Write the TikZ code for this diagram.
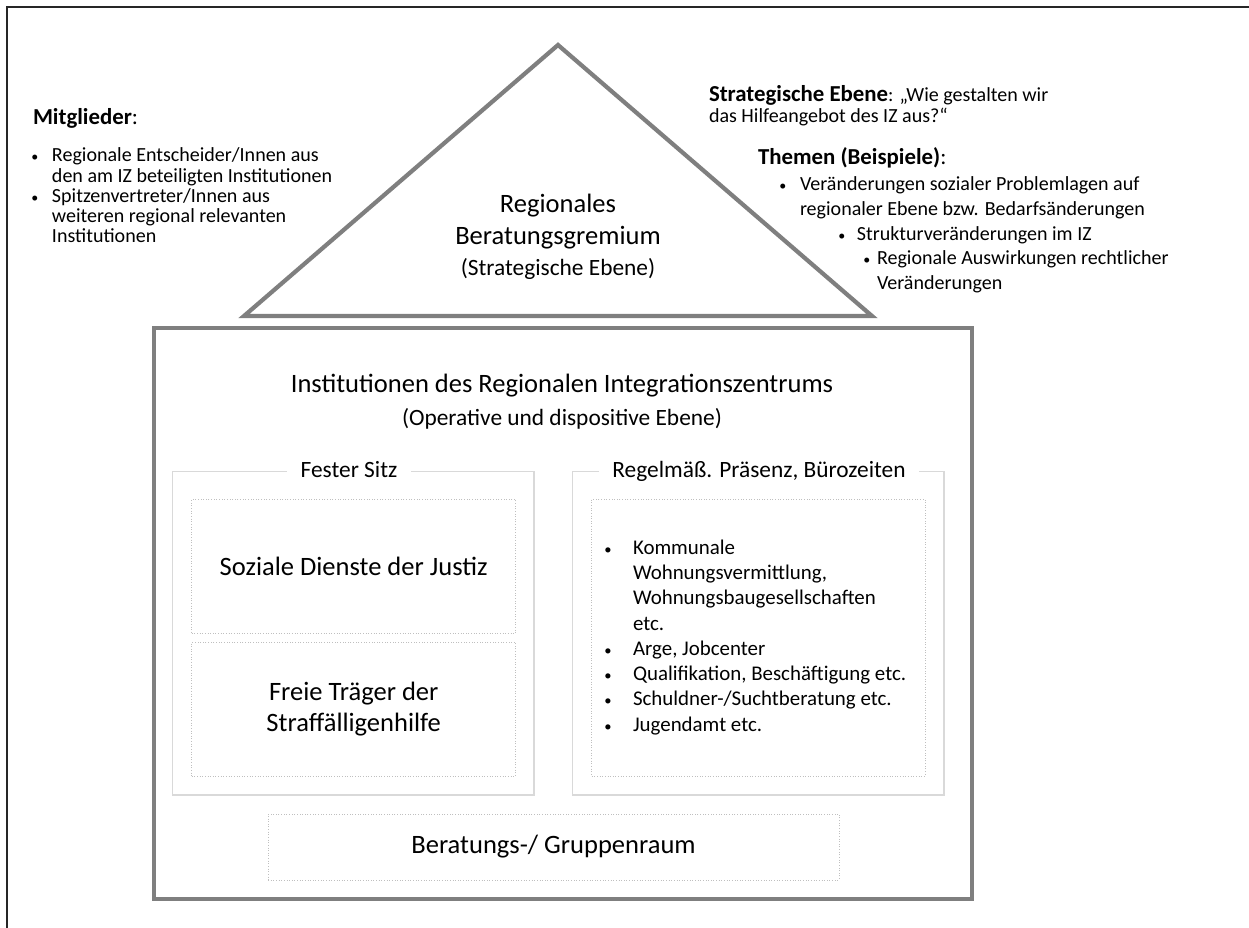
\documentclass[tikz,border=0pt]{standalone}
\usepackage{fontspec}
\setmainfont{Carlito}
\usepackage{xcolor}
\usepackage{tikz}

\definecolor{hausgrau}{HTML}{7F7F7F}
\definecolor{rahmengrau}{HTML}{D9D9D9}
\definecolor{punktgrau}{HTML}{BFBFBF}

\newcommand\fsbig{\fontsize{15.1}{17.9}\selectfont}
\newcommand\fssub{\fontsize{13.3}{17.9}\selectfont}
\newcommand\fshead{\fontsize{13}{11.4}\selectfont}
\newcommand\fsbody{\fontsize{11.4}{11.4}\selectfont}
\newcommand\fsbodyweit{\fontsize{11.4}{13.9}\selectfont}
\newcommand\fslist{\fontsize{11.9}{14.4}\selectfont}
\newcommand\pkt[1]{\makebox[#1][l]{\hspace{0.8pt}\scalebox{0.7}{•}}}

\begin{document}
\begin{tikzpicture}[x=0.02cm, y=-0.02cm,
    every node/.style={inner sep=0pt, outer sep=0pt},
    haus/.style={draw=hausgrau, line width=2.5pt},
    gruppe/.style={draw=rahmengrau, line width=0.6pt},
    feld/.style={draw=punktgrau, densely dotted, line width=0.5pt, align=center, font=\fsbig},
    titel/.style={fill=white, inner xsep=7.5pt, inner ysep=3pt, anchor=base, font=\fssub},
    liste/.style={anchor=base west, font=\fsbody}]
    \useasboundingbox (0,0) rectangle (1249,928);
    \draw[black!85, line width=1.3pt] (7,928) -- (7,7) -- (1249,7);

    \draw[haus, line width=2.4pt] (244,316) -- (558,45) -- (872,316) -- cycle;
    \draw[haus] (154,328) rectangle (972,899);

    \node[font=\fsbig, align=center] (gremium) at (558,237)
        {Regionales\\Beratungsgremium\\{\fssub (Strategische Ebene)}};
    \node[font=\fsbig, align=center] (iz) at (562,402)
        {Institutionen des Regionalen Integrationszentrums\\[1pt]{\fssub (Operative und dispositive Ebene)}};

    \node[liste, font=\fshead] (mitglieder) at (33,125) {\textbf{Mitglieder}:};
    \node[liste] (mliste) at (30,162) {\begin{tabular}[t]{@{}l@{}l@{}}
        \pkt{0.44cm} & Regionale Entscheider/Innen aus\\
        & den am IZ beteiligten Institutionen\\
        \pkt{0.44cm} & Spitzenvertreter/Innen aus\\
        & weiteren regional relevanten\\
        & Institutionen
    \end{tabular}};

    \node[liste] (strategie) at (709,102) {\begin{tabular}[t]{@{}l@{}}
        {\fshead\textbf{Strategische Ebene}}: „Wie gestalten wir\\
        das Hilfeangebot des IZ aus?“
    \end{tabular}};
    \node[liste, font=\fshead] (themen) at (758,165) {\textbf{Themen (Beispiele)}:};
    \node[liste, font=\fsbodyweit] (thema1) at (778,191) {\begin{tabular}[t]{@{}l@{}l@{}}
        \pkt{0.44cm} & Veränderungen sozialer Problemlagen auf\\
        & regionaler Ebene bzw. Bedarfsänderungen
    \end{tabular}};
    \node[liste] (thema2) at (837,241) {\pkt{0.4cm}Strukturveränderungen im IZ};
    \node[liste, font=\fsbodyweit] (thema3) at (862,265) {\begin{tabular}[t]{@{}l@{}l@{}}
        \pkt{0.3cm} & Regionale Auswirkungen rechtlicher\\
        & Veränderungen
    \end{tabular}};

    \draw[gruppe] (172.7,471.7) rectangle (534,795);
    \draw[gruppe] (572.7,471.7) rectangle (944,795);
    \node[titel] (fest) at (349,478) {Fester Sitz};
    \node[titel] (regel) at (759,478) {Regelmäß. Präsenz, Bürozeiten};

    \node[feld, minimum width=6.48cm, minimum height=2.68cm] (justiz) at (353.7,566.3)
        {Soziale Dienste der Justiz};
    \node[feld, minimum width=6.48cm, minimum height=2.674cm] (traeger) at (353.7,709.2)
        {Freie Träger der\\Straffälligenhilfe};
    \node[feld, minimum width=6.666cm, minimum height=5.534cm] (regelfeld) at (758.35,637.65) {};
    \node[anchor=west, font=\fslist] (regelliste) at ([xshift=0.226cm]regelfeld.west) {\begin{tabular}{@{}l@{}l@{}}
        \pkt{0.6cm} & Kommunale\\
        & Wohnungsvermittlung,\\
        & Wohnungsbaugesellschaften\\
        & etc.\\
        \pkt{0.6cm} & Arge, Jobcenter\\
        \pkt{0.6cm} & Qualifikation, Beschäftigung etc.\\
        \pkt{0.6cm} & Schuldner-/Suchtberatung etc.\\
        \pkt{0.6cm} & Jugendamt etc.
    \end{tabular}};
    \node[feld, minimum width=11.42cm, minimum height=1.32cm] (raum) at (553.5,847)
        {Beratungs-/ Gruppenraum};
\end{tikzpicture}
\end{document}
